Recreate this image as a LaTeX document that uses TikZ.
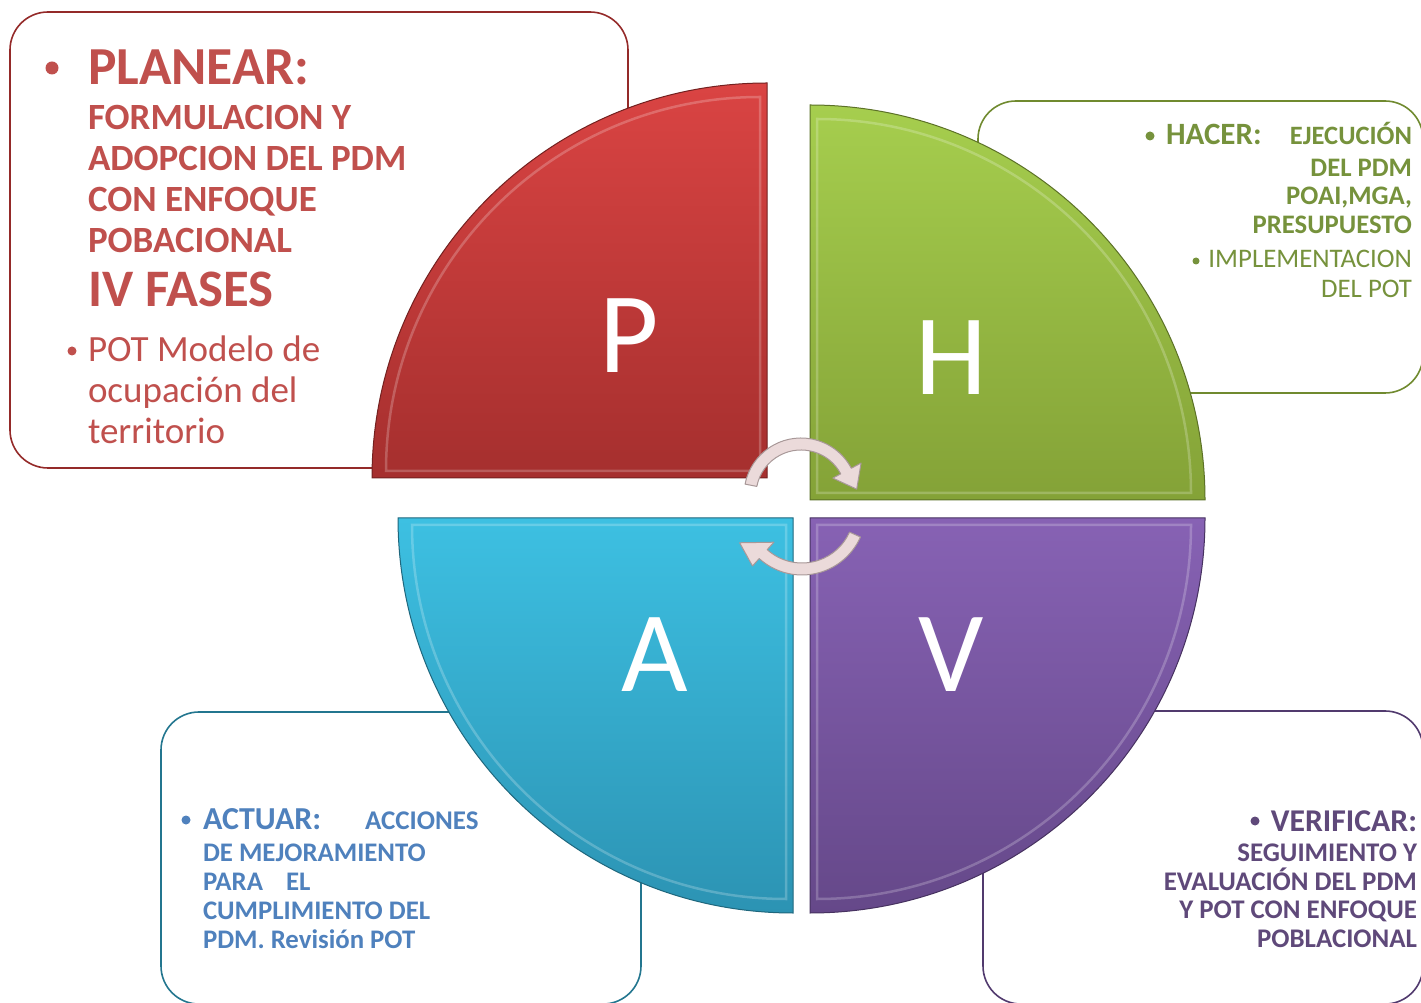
\documentclass[tikz,border=0pt]{standalone}
\usepackage{fontspec}
\setmainfont{Carlito}
\definecolor{redtxt}{HTML}{C0504D}
\definecolor{greentxt}{HTML}{76923C}
\definecolor{bluetxt}{HTML}{4F81BD}
\definecolor{purpletxt}{HTML}{5F497A}
\definecolor{redtop}{HTML}{DA4443}
\definecolor{redbot}{HTML}{A52F2E}
\definecolor{greentop}{HTML}{A6CE4E}
\definecolor{greenbot}{HTML}{84A237}
\definecolor{cyantop}{HTML}{3DC0E2}
\definecolor{cyanbot}{HTML}{2C93B3}
\definecolor{purptop}{HTML}{8762B4}
\definecolor{purpbot}{HTML}{654889}
\definecolor{arrowfill}{HTML}{EBDADA}
\definecolor{arrowline}{HTML}{A89898}
\begin{document}
\begin{tikzpicture}[x=1pt,y=1pt,
  txt/.style={inner sep=0pt, outer sep=0pt},
  textbox/.style={rounded corners=38pt, line width=1.6pt, fill=white},
  dot/.style={circle, inner sep=0pt, minimum size=#1},
  bevel/.style={draw=white, draw opacity=0.22, line width=2.5pt},
  quadedge/.style={line width=1pt},
  bigletter/.style={txt, anchor=base, text=white, font=\fontsize{115}{115}\selectfont},
  circarrow/.style={fill=arrowfill, draw=arrowline, line width=1pt, line join=round}
]
\useasboundingbox (0,0) rectangle (1421,1002);
\clip (0,0) rectangle (1421,1002);

% ---------- text boxes (behind) ----------
\draw[textbox, draw=redbot!90!black] (10,534) rectangle (628,990);
\draw[textbox, draw=greenbot!85!black] (978,609) rectangle (1423,901);
\draw[textbox, draw=cyanbot!80!black] (161,-2) rectangle (641,290);
\draw[textbox, draw=purpbot!80!black] (983,-2) rectangle (1423,291);

% ---------- quadrants ----------
% P (red)
\shade[top color=redtop, bottom color=redbot]
  (767,524) -- (372,524) arc[start angle=180, end angle=90, radius=395] -- cycle;
\draw[quadedge, draw=redbot!70!black]
  (767,524) -- (372,524) arc[start angle=180, end angle=90, radius=395] -- cycle;
\draw[bevel]
  (760,531) -- (386,531) arc[start angle=180, end angle=90, radius=374] -- cycle;
% H (green)
\shade[top color=greentop, bottom color=greenbot]
  (810,502) -- (810,897) arc[start angle=90, end angle=0, radius=395] -- cycle;
\draw[quadedge, draw=greenbot!70!black]
  (810,502) -- (810,897) arc[start angle=90, end angle=0, radius=395] -- cycle;
\draw[bevel]
  (817,509) -- (817,883) arc[start angle=90, end angle=0, radius=374] -- cycle;
% A (cyan)
\shade[top color=cyantop, bottom color=cyanbot]
  (793,484) -- (398,484) arc[start angle=180, end angle=270, radius=395] -- cycle;
\draw[quadedge, draw=cyanbot!70!black]
  (793,484) -- (398,484) arc[start angle=180, end angle=270, radius=395] -- cycle;
\draw[bevel]
  (786,477) -- (412,477) arc[start angle=180, end angle=270, radius=374] -- cycle;
% V (purple)
\shade[top color=purptop, bottom color=purpbot]
  (810,484) -- (1205,484) arc[start angle=0, end angle=-90, radius=395] -- cycle;
\draw[quadedge, draw=purpbot!70!black]
  (810,484) -- (1205,484) arc[start angle=0, end angle=-90, radius=395] -- cycle;
\draw[bevel]
  (817,477) -- (1191,477) arc[start angle=0, end angle=-90, radius=374] -- cycle;

% ---------- big letters ----------
\node[bigletter] (P) at (629,629) {P};
\node[bigletter] (H) at (951,607) {H};
\node[bigletter] (A) at (655,310) {A};
\node[bigletter] (V) at (951,310) {V};

% ---------- circular arrows ----------
\begin{scope}[shift={(801,507)}]
  \path[circarrow]
    (169:57) arc[start angle=169, end angle=28, radius=57]
    -- (28:68) -- (6:56) -- (28:36) -- (28:45)
    arc[start angle=28, end angle=169, radius=45] -- cycle;
\end{scope}
\begin{scope}[shift={(802,491)}]
  \path[circarrow]
    (-24:64) arc[start angle=-24, end angle=-132, radius=64]
    -- (-132:74) -- (-153:70) -- (-132:42) -- (-132:52)
    arc[start angle=-132, end angle=-24, radius=52] -- cycle;
\end{scope}

% ---------- PLANEAR text ----------
\node[dot=13pt, fill=redtxt] (bp1) at (52,934) {};
\node[txt, anchor=base west, text=redtxt, font=\fontsize{53.5}{53.5}\selectfont\bfseries] (pl1) at (88,917) {PLANEAR:};
\node[txt, anchor=base west, text=redtxt, font=\fontsize{37}{37}\selectfont\bfseries] (pl2) at (88,872) {FORMULACION Y};
\node[txt, anchor=base west, text=redtxt, font=\fontsize{37}{37}\selectfont\bfseries] (pl3) at (88,831) {ADOPCION DEL PDM};
\node[txt, anchor=base west, text=redtxt, font=\fontsize{37}{37}\selectfont\bfseries] (pl4) at (88,790) {CON ENFOQUE};
\node[txt, anchor=base west, text=redtxt, font=\fontsize{37}{37}\selectfont\bfseries] (pl5) at (88,749) {POBACIONAL};
\node[txt, anchor=base west, text=redtxt, font=\fontsize{52.7}{52.7}\selectfont\bfseries] (pl6) at (88,695) {IV FASES};
\node[dot=9pt, fill=redtxt] (bp2) at (72,651) {};
\node[txt, anchor=base west, text=redtxt, font=\fontsize{37}{37}\selectfont] (pl7) at (88,640) {POT Modelo de};
\node[txt, anchor=base west, text=redtxt, font=\fontsize{37}{37}\selectfont] (pl8) at (88,599) {ocupación del};
\node[txt, anchor=base west, text=redtxt, font=\fontsize{37}{37}\selectfont] (pl9) at (88,558) {territorio};

% ---------- HACER text ----------
\node[dot=9pt, fill=greentxt] (bh1) at (1150,866) {};
\node[txt, anchor=base west, text=greentxt, font=\fontsize{31}{31}\selectfont\bfseries] (h1) at (1166,857) {HACER:};
\node[txt, anchor=base east, text=greentxt, font=\fontsize{26.5}{26.5}\selectfont\bfseries] (h2) at (1412,857) {EJECUCIÓN};
\node[txt, anchor=base east, text=greentxt, font=\fontsize{26.7}{26.7}\selectfont\bfseries] (h3) at (1412,825) {DEL PDM};
\node[txt, anchor=base east, text=greentxt, font=\fontsize{26.7}{26.7}\selectfont\bfseries] (h4) at (1412,797) {POAI,MGA,};
\node[txt, anchor=base east, text=greentxt, font=\fontsize{26.7}{26.7}\selectfont\bfseries] (h5) at (1412,768) {PRESUPUESTO};
\node[dot=7pt, fill=greentxt] (bh2) at (1196,741) {};
\node[txt, anchor=base east, text=greentxt, font=\fontsize{26.8}{26.8}\selectfont] (h6) at (1412,734) {IMPLEMENTACION};
\node[txt, anchor=base east, text=greentxt, font=\fontsize{26.8}{26.8}\selectfont] (h7) at (1412,704) {DEL POT};

% ---------- ACTUAR text ----------
\node[dot=9pt, fill=bluetxt] (ba1) at (186,182) {};
\node[txt, anchor=base west, text=bluetxt, font=\fontsize{32}{32}\selectfont\bfseries] (a1) at (203,173) {ACTUAR:};
\node[txt, anchor=base west, text=bluetxt, font=\fontsize{27}{27}\selectfont\bfseries] (a2) at (365,173) {ACCIONES};
\node[txt, anchor=base west, text=bluetxt, font=\fontsize{26.8}{26.8}\selectfont\bfseries] (a3) at (203,141) {DE MEJORAMIENTO};
\node[txt, anchor=base west, text=bluetxt, font=\fontsize{26.8}{26.8}\selectfont\bfseries] (a4) at (203,112) {PARA\hspace{23pt}EL};
\node[txt, anchor=base west, text=bluetxt, font=\fontsize{26.8}{26.8}\selectfont\bfseries] (a5) at (203,83) {CUMPLIMIENTO DEL};
\node[txt, anchor=base west, text=bluetxt, font=\fontsize{26.8}{26.8}\selectfont\bfseries] (a6) at (203,54) {PDM. Revisión POT};

% ---------- VERIFICAR text ----------
\node[dot=9pt, fill=purpletxt] (bv1) at (1255,181) {};
\node[txt, anchor=base east, text=purpletxt, font=\fontsize{31.7}{31.7}\selectfont\bfseries] (v1) at (1417,171) {VERIFICAR:};
\node[txt, anchor=base east, text=purpletxt, font=\fontsize{26.9}{26.9}\selectfont\bfseries] (v2) at (1417,141) {SEGUIMIENTO Y};
\node[txt, anchor=base east, text=purpletxt, font=\fontsize{26.9}{26.9}\selectfont\bfseries] (v3) at (1417,112) {EVALUACIÓN DEL PDM};
\node[txt, anchor=base east, text=purpletxt, font=\fontsize{26.9}{26.9}\selectfont\bfseries] (v4) at (1417,84) {Y POT CON ENFOQUE};
\node[txt, anchor=base east, text=purpletxt, font=\fontsize{26.9}{26.9}\selectfont\bfseries] (v5) at (1417,55) {POBLACIONAL};
\end{tikzpicture}
\end{document}
